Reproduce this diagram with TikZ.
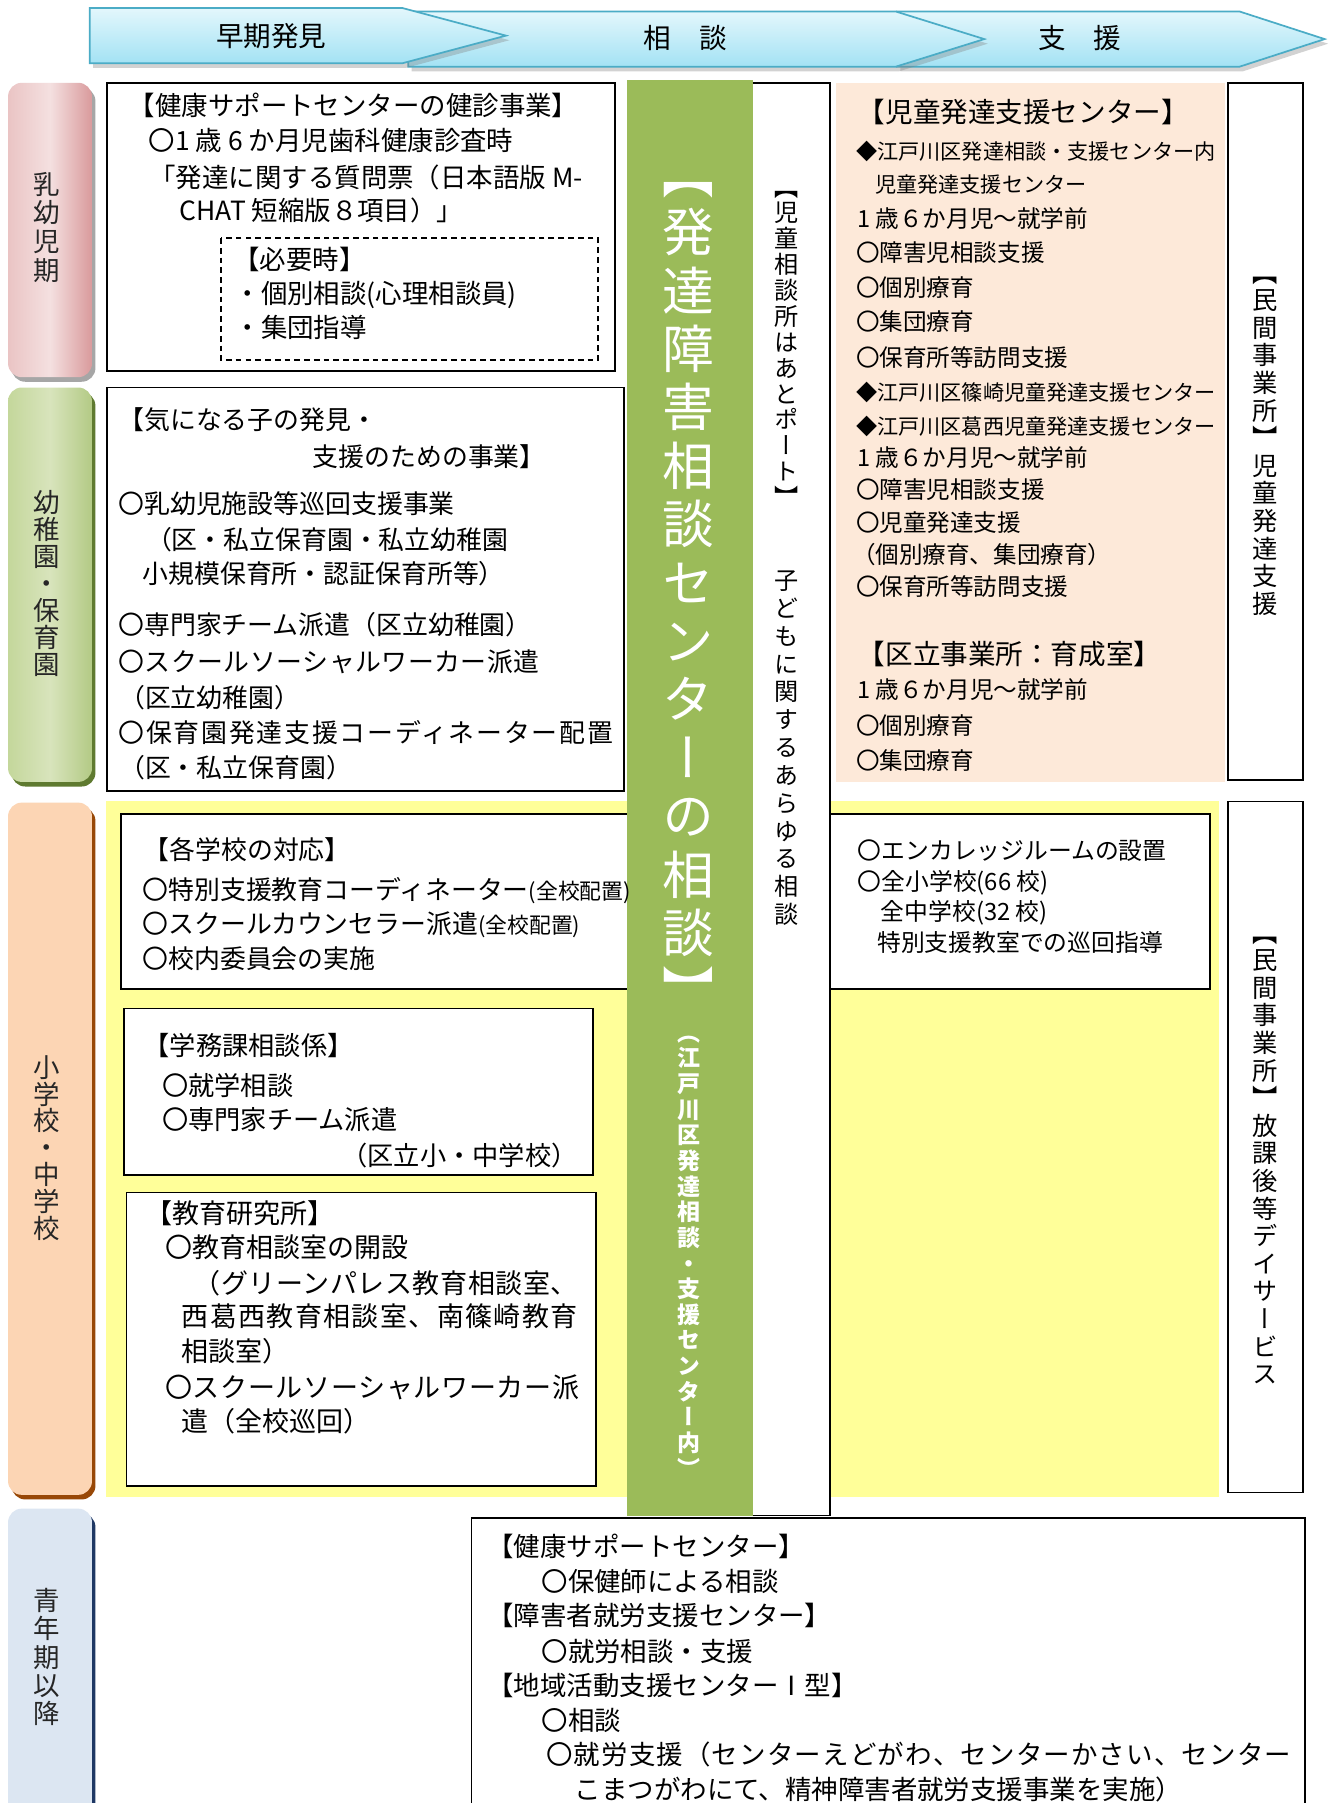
\documentclass[tikz,border=0pt]{standalone}
\usepackage{fontspec}
\setmainfont{Noto Sans CJK JP}
\newfontfamily\vfont[RawFeature=+vert]{Noto Sans CJK JP}
\definecolor{grn}{HTML}{9BBB59}
\definecolor{yel}{HTML}{FFFF99}
\definecolor{pch}{HTML}{FDE9D9}
\definecolor{arrB}{HTML}{4BACC6}
\definecolor{arrT}{HTML}{E3F7FC}
\definecolor{arrBt}{HTML}{A3E2F4}
\definecolor{pinkL}{HTML}{EAC4C4}
\definecolor{pinkM}{HTML}{F4E0E0}
\definecolor{pinkR}{HTML}{D99A9C}
\definecolor{pinkS}{HTML}{A6A6A6}
\definecolor{grnL}{HTML}{C4D79B}
\definecolor{grnM}{HTML}{D8E4BC}
\definecolor{grnR}{HTML}{B3CA85}
\definecolor{grnS}{HTML}{5F7A30}
\definecolor{peachSt}{HTML}{FCD5B4}
\definecolor{peachS}{HTML}{984807}
\definecolor{bluSt}{HTML}{DCE6F2}
\definecolor{bluS}{HTML}{1F3864}
\newcommand\fs[1]{\fontsize{#1pt}{#1pt}\selectfont\vrule height .88em depth .12em width 0pt\relax}
\newcommand\lsp[1]{\addfontfeature{LetterSpace=#1}}
\ExplSyntaxOn
\NewDocumentCommand\vt{mm}{
  \vbox:n {
    \skip_set:Nn \baselineskip {#1}
    \dim_set:Nn \lineskiplimit {-\c_max_dim}
    \tl_map_inline:nn {#2} { \hbox_to_wd:nn {1em} {\hss ##1 \hss \vrule height .88em depth .12em width 0pt} }
  }
}
\ExplSyntaxOff
\begin{document}
\begin{tikzpicture}[x=1pt,y=-1pt,
  box/.style={draw=black, line width=1.6pt, fill=white},
  tl/.style={anchor=west, inner sep=0pt, outer sep=0pt, text=black},
  vlab/.style={inner sep=0pt, outer sep=0pt},
  arr/.style={draw=arrB, line width=1.5pt, top color=arrT, bottom color=arrBt},
  arrsh/.style={fill=gray, opacity=.35}]
\useasboundingbox (0,0) rectangle (1157,1568);
\clip (0,0) rectangle (1157,1568);
\fill[white] (0,0) rectangle (1157,1568);

% ---------- header arrows
\fill[arrsh] (783,14) -- (1081,14) -- (1155,38) -- (1081,62) -- (783,62) -- cycle;
\path[arr] (780,10) -- (1078,10) -- (1152,34) -- (1078,58) -- (780,58) -- cycle;
\fill[arrsh] (358,14) -- (782,14) -- (859,38) -- (782,62) -- (358,62) -- cycle;
\path[arr] (355,10) -- (779,10) -- (856,34) -- (779,58) -- (355,58) -- cycle;
\fill[arrsh] (81,11) -- (353,11) -- (443,35) -- (353,59) -- (81,59) -- cycle;
\path[arr] (78,7) -- (350,7) -- (440,31) -- (350,55) -- (78,55) -- cycle;
\node[vlab] (h1) at (236,31) {\fs{24}早期発見};
\node[vlab] (h2) at (596,33) {\fs{24}相　談};
\node[vlab] (h3) at (939,33) {\fs{24}支　援};

% ---------- stage labels
\fill[pinkS, rounded corners=12pt] (10,76) rectangle (83,332);
\shade[rounded corners=12pt, left color=pinkL, right color=pinkR, middle color=pinkM] (7,72) rectangle (80,328);
\node[vlab, text=black!85] (s1) at (41,197.5) {\fontsize{23pt}{23pt}\selectfont\vfont\vt{25pt}{乳幼児期}};
\fill[grnS, rounded corners=12pt] (10,341) rectangle (83,684);
\shade[rounded corners=12pt, left color=grnL, right color=grnR, middle color=grnM] (7,337) rectangle (80,680);
\node[vlab, text=black!85] (s2) at (41,507.5) {\fontsize{23pt}{23pt}\selectfont\vfont\vt{23.5pt}{幼稚園・保育園}};
\fill[peachS, rounded corners=12pt] (10,702) rectangle (83,1304);
\fill[peachSt, rounded corners=12pt] (7,698) rectangle (80,1300);
\node[vlab, text=black!85] (s3) at (41,998) {\fontsize{23pt}{23pt}\selectfont\vfont\vt{23.3pt}{小学校・中学校}};
\fill[bluS, rounded corners=12pt] (10,1316) rectangle (83,1600);
\fill[bluSt, rounded corners=12pt] (7,1312) rectangle (80,1600);
\node[vlab, text=black!85] (s4) at (41,1441) {\fontsize{23pt}{23pt}\selectfont\vfont\vt{24.5pt}{青年期以降}};

% ---------- yellow areas
\fill[yel] (92,697) rectangle (545,1302);
\fill[yel] (722,697) rectangle (1060,1302);

% ---------- left boxes
\draw[box] (93,72) rectangle (535,323);
\draw[black, line width=1.3pt, dash pattern=on 5pt off 3.5pt] (192,207) rectangle (520,313);
\draw[box] (93,337) rectangle (543,688);
\draw[box] (105,708) rectangle (560,860);
\draw[box] (108,877) rectangle (516,1022);
\draw[box] (110,1037) rectangle (518,1292);

% ---------- centre columns
\draw[box] (650,72) rectangle (722,1318);
\fill[grn] (545,70) rectangle (655,1318);
\node[vlab, text=white] (g1) at (599,506.5) {\fontsize{45pt}{45pt}\selectfont\vfont\vt{50.8pt}{【発達障害相談センターの相談】}};
\node[vlab, text=white] (g2) at (599,1087.5) {\fontsize{20pt}{20pt}\selectfont\vfont\bfseries\vt{22.3pt}{（江戸川区発達相談・支援センター内）}};
\node[vlab] (j1) at (684,297.5) {\fontsize{21pt}{21pt}\selectfont\vfont\vt{22.5pt}{【児童相談所はあとポート】}};
\node[vlab] (j2) at (684,650) {\fontsize{21pt}{21pt}\selectfont\vfont\vt{24.2pt}{子どもに関するあらゆる相談}};

% ---------- right side
\fill[pch] (727,72) rectangle (1065,680);
\draw[box] (1068,72) rectangle (1133,678);
\draw[box] (722,708) rectangle (1052,860);
\draw[box] (1068,697) rectangle (1133,1298);
\node[vlab] (m1) at (1100,381) {\fontsize{22pt}{22pt}\selectfont\vfont\vt{24pt}{【民間事業所】児童発達支援}};
\node[vlab] (m2) at (1100,1003) {\fontsize{22pt}{22pt}\selectfont\vfont\vt{24pt}{【民間事業所】放課後等デイサービス}};

% ---------- bottom box
\draw[box] (410,1320) rectangle (1135,1620);

% ---------- box A text
\node[tl] (a1) at (112,92) {\fs{23}【健康サポートセンターの健診事業】};
\node[tl] (a2) at (129.5,122) {\fs{23}〇1 歳 6 か月児歯科健康診査時};
\node[tl] (a3) at (130,154) {\fs{23}「発達に関する質問票（日本語版 M-};
\node[tl] (a4) at (156,183) {\fs{23}CHAT 短縮版８項目）」};
\node[tl] (d1) at (203,226) {\fs{23}【必要時】};
\node[tl] (d2) at (204,256) {\fs{23}・個別相談(心理相談員)};
\node[tl] (d3) at (204,285) {\fs{23}・集団指導};

% ---------- box B text
\node[tl] (b1) at (103,365) {\fs{22.5}【気になる子の発見・};
\node[tl] (b2) at (272,397) {\fs{22.5}支援のための事業】};
\node[tl] (b3) at (103,438) {\fs{22.5}〇乳幼児施設等巡回支援事業};
\node[tl] (b4) at (127,469) {\fs{22.5}（区・私立保育園・私立幼稚園};
\node[tl] (b5) at (124,499) {\fs{22.5}小規模保育所・認証保育所等）};
\node[tl] (b6) at (103,543) {\fs{22.5}〇専門家チーム派遣（区立幼稚園）};
\node[tl] (b7) at (103,575) {\fs{22.5}\lsp{2}〇スクールソーシャルワーカー派遣};
\node[tl] (b8) at (103.6,607) {\fs{22.5}（区立幼稚園）};
\node[tl] (b9) at (103,637) {\fs{22.5}\lsp{7}〇保育園発達支援コーディネーター配置};
\node[tl] (b10) at (103.6,668) {\fs{22.5}（区・私立保育園）};

% ---------- box C text
\node[tl] (c1) at (125,739) {\fs{22.5}【各学校の対応】};
\node[tl] (c2) at (124,774) {\fs{22.5}〇特別支援教育コーディネーター{\fontsize{19pt}{19pt}\selectfont(全校配置)}};
\node[tl] (c3) at (124,804) {\fs{22.5}〇スクールカウンセラー派遣{\fontsize{19pt}{19pt}\selectfont(全校配置)}};
\node[tl] (c4) at (124,834) {\fs{22.5}〇校内委員会の実施};

% ---------- box D text
\node[tl] (k1) at (125,909) {\fs{22.8}【学務課相談係】};
\node[tl] (k2) at (141,944) {\fs{22.8}〇就学相談};
\node[tl] (k3) at (141,974) {\fs{22.8}〇専門家チーム派遣};
\node[tl] (k4) at (297,1005) {\fs{22.8}（区立小・中学校）};

% ---------- box E text
\node[tl] (e1) at (126.5,1055) {\fs{23.5}【教育研究所】};
\node[tl] (e2) at (143.5,1085) {\fs{23.5}〇教育相談室の開設};
\node[tl] (e3) at (168.5,1116) {\fs{23.5}\lsp{2}（グリーンパレス教育相談室、};
\node[tl] (e4) at (158,1145) {\fs{23.5}\lsp{5}西葛西教育相談室、南篠崎教育};
\node[tl] (e5) at (158,1175) {\fs{23.5}相談室）};
\node[tl] (e6) at (143.5,1206) {\fs{23.5}\lsp{2.5}〇スクールソーシャルワーカー派};
\node[tl] (e7) at (158,1236) {\fs{23.5}遣（全校巡回）};

% ---------- peach text
\node[tl] (r1) at (746,97) {\fs{24}【児童発達支援センター】};
\node[tl] (r2) at (744.5,132) {\fs{18.4}◆江戸川区発達相談・支援センター内};
\node[tl] (r3) at (761,160) {\fs{18.4}児童発達支援センター};
\node[tl] (r4) at (745.6,190) {\fs{20.5}1 歳６か月児～就学前};
\node[tl] (r5) at (744.5,220) {\fs{20.5}〇障害児相談支援};
\node[tl] (r6) at (744.5,250) {\fs{20.5}〇個別療育};
\node[tl] (r7) at (744.5,280) {\fs{20.5}〇集団療育};
\node[tl] (r8) at (744.5,311) {\fs{20.5}〇保育所等訪問支援};
\node[tl] (r9) at (744.5,341) {\fs{18.4}◆江戸川区篠崎児童発達支援センター};
\node[tl] (r10) at (744.5,371) {\fs{18.4}◆江戸川区葛西児童発達支援センター};
\node[tl] (r11) at (745.6,398) {\fs{20.5}1 歳６か月児～就学前};
\node[tl] (r12) at (744.5,426) {\fs{20.5}〇障害児相談支援};
\node[tl] (r13) at (744.5,454) {\fs{20.5}〇児童発達支援};
\node[tl] (r14) at (741,482) {\fs{20.5}（個別療育、集団療育）};
\node[tl] (r15) at (744.5,510) {\fs{20.5}〇保育所等訪問支援};
\node[tl] (r16) at (746,569) {\fs{24}【区立事業所：育成室】};
\node[tl] (r17) at (745.6,600) {\fs{20.5}1 歳６か月児～就学前};
\node[tl] (r18) at (744.5,631) {\fs{20.5}〇個別療育};
\node[tl] (r19) at (744.5,661) {\fs{20.5}〇集団療育};

% ---------- encourage room text
\node[tl] (n1) at (746,740) {\fs{20.7}〇エンカレッジルームの設置};
\node[tl] (n2) at (746,767) {\fs{20.7}〇全小学校(66 校)};
\node[tl] (n3) at (766,793.5) {\fs{20.7}全中学校(32 校)};
\node[tl] (n4) at (763,820) {\fs{20.7}特別支援教室での巡回指導};

% ---------- bottom text
\node[tl] (f1) at (424,1345) {\fs{23}【健康サポートセンター】};
\node[tl] (f2) at (471,1375) {\fs{23}〇保健師による相談};
\node[tl] (f3) at (424,1405) {\fs{23}【障害者就労支援センター】};
\node[tl] (f4) at (471,1436) {\fs{23}〇就労相談・支援};
\node[tl] (f5) at (424,1466) {\fs{23}【地域活動支援センターⅠ型】};
\node[tl] (f6) at (471,1496) {\fs{23}〇相談};
\node[tl] (f7) at (475,1526) {\fs{23}\lsp{4.5}〇就労支援（センターえどがわ、センターかさい、センター};
\node[tl] (f8) at (500,1556) {\fs{23}こまつがわにて、精神障害者就労支援事業を実施）};
\end{tikzpicture}
\end{document}
